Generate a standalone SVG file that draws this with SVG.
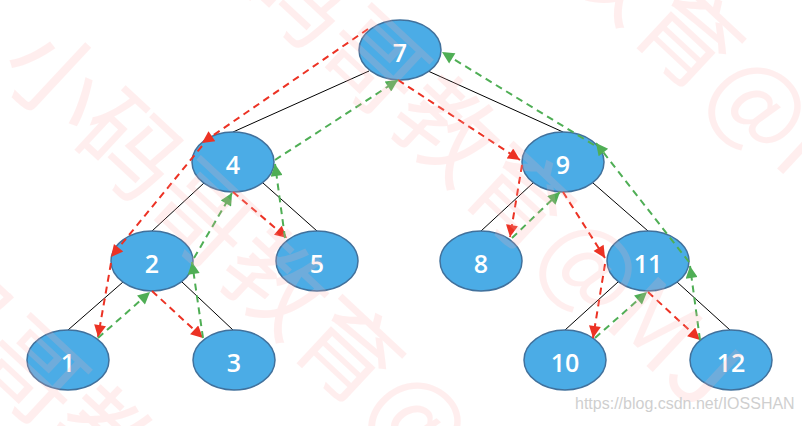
<svg xmlns="http://www.w3.org/2000/svg" width="802" height="426" viewBox="0 0 802 426">
<style>
.edge{stroke:#000;stroke-width:1;fill:none}
.node ellipse{fill:#4BACE6;stroke:#41719C;stroke-width:1.5}
.node text{fill:#fff;font-family:"Open Sans","Liberation Sans",sans-serif;font-size:25px;font-weight:600;text-anchor:middle}
.red{stroke:#EC3224;stroke-width:2;stroke-dasharray:7,5;fill:none;marker-end:url(#ar)}
.green{stroke:#4FAE55;stroke-width:2;stroke-dasharray:7,5;fill:none;marker-end:url(#ag)}
.wm{font-family:"Noto Sans CJK SC",sans-serif;font-size:100px;fill:#FFB0B0;opacity:0.2}
</style>
<defs>
<marker id="ar" viewBox="0 0 10 10" refX="10" refY="5" markerWidth="14" markerHeight="12" markerUnits="userSpaceOnUse" orient="auto"><path d="M0,0 L10,5 L0,10 z" fill="#EC3224"/></marker>
<marker id="ag" viewBox="0 0 10 10" refX="10" refY="5" markerWidth="14" markerHeight="12" markerUnits="userSpaceOnUse" orient="auto"><path d="M0,0 L10,5 L0,10 z" fill="#4FAE55"/></marker>
</defs>
<rect width="802" height="426" fill="#fff"/>
<g id="edges">
<line class="edge" x1="369" y1="71" x2="233" y2="132"/>
<line class="edge" x1="428" y1="71" x2="563" y2="132"/>
<line class="edge" x1="204" y1="183" x2="152" y2="231"/>
<line class="edge" x1="263" y1="183" x2="317" y2="231"/>
<line class="edge" x1="123" y1="282" x2="68" y2="330"/>
<line class="edge" x1="182" y1="282" x2="233" y2="330"/>
<line class="edge" x1="533" y1="183" x2="481" y2="231"/>
<line class="edge" x1="593" y1="183" x2="648" y2="231"/>
<line class="edge" x1="618" y1="282" x2="565" y2="330"/>
<line class="edge" x1="677" y1="282" x2="730" y2="330"/>
</g>
<g id="n7" class="node"><ellipse cx="400" cy="50" rx="41" ry="30"/><text x="400" y="62">7</text></g>
<g id="n4" class="node"><ellipse cx="233" cy="162" rx="41" ry="30"/><text x="233" y="174">4</text></g>
<g id="n9" class="node"><ellipse cx="563" cy="162" rx="41" ry="30"/><text x="563" y="174">9</text></g>
<g id="n2" class="node"><ellipse cx="152" cy="261" rx="41" ry="30"/><text x="152" y="273">2</text></g>
<g id="n5" class="node"><ellipse cx="317" cy="261" rx="41" ry="30"/><text x="317" y="273">5</text></g>
<g id="n8" class="node"><ellipse cx="481" cy="261" rx="41" ry="30"/><text x="481" y="273">8</text></g>
<g id="n11" class="node"><ellipse cx="648" cy="261" rx="41" ry="30"/><text x="648" y="273">11</text></g>
<g id="n1" class="node"><ellipse cx="68" cy="360" rx="41" ry="30"/><text x="68" y="372">1</text></g>
<g id="n3" class="node"><ellipse cx="234" cy="360" rx="41" ry="30"/><text x="234" y="372">3</text></g>
<g id="n10" class="node"><ellipse cx="565" cy="360" rx="41" ry="30"/><text x="565" y="372">10</text></g>
<g id="n12" class="node"><ellipse cx="731" cy="360" rx="41" ry="30"/><text x="731" y="372">12</text></g>
<g id="connectors">
<line class="red" x1="368" y1="29" x2="202" y2="143"/>
<line class="red" x1="202" y1="146" x2="111" y2="257"/>
<line class="red" x1="111" y1="263" x2="98" y2="337"/>
<line class="red" x1="152" y1="291" x2="203" y2="338"/>
<line class="red" x1="233" y1="192" x2="287" y2="238"/>
<line class="red" x1="398" y1="80" x2="520" y2="160"/>
<line class="red" x1="522" y1="165" x2="510" y2="237"/>
<line class="red" x1="563" y1="192" x2="605" y2="258"/>
<line class="red" x1="605" y1="264" x2="593" y2="338"/>
<line class="red" x1="648" y1="292" x2="700" y2="340"/>
<line class="green" x1="98" y1="338" x2="150" y2="292"/>
<line class="green" x1="203" y1="338" x2="192" y2="262"/>
<line class="green" x1="194" y1="258" x2="232" y2="193"/>
<line class="green" x1="285" y1="238" x2="275" y2="164"/>
<line class="green" x1="275" y1="160" x2="398" y2="80"/>
<line class="green" x1="512" y1="238" x2="560" y2="192"/>
<line class="green" x1="595" y1="338" x2="647" y2="292"/>
<line class="green" x1="700" y1="340" x2="690" y2="266"/>
<line class="green" x1="689" y1="262" x2="596" y2="143"/>
<line class="green" x1="594" y1="145" x2="442" y2="52"/>
</g>
<g id="watermark">
<text class="wm" transform="translate(-175,228) rotate(43)">小码哥教育@MJ</text>
<text class="wm" transform="translate(-5,71) rotate(43)">小码哥教育@MJ</text>
<text class="wm" transform="translate(166,-82) rotate(43)">小码哥教育@MJ</text>
<text class="wm" transform="translate(335,-244) rotate(43)">小码哥教育@MJ</text>
<text x="575" y="409" font-family="Liberation Sans, Arial, sans-serif" font-size="16" fill="#CFCFCF">https://blog.csdn.net/IOSSHAN</text>
</g>
</svg>
